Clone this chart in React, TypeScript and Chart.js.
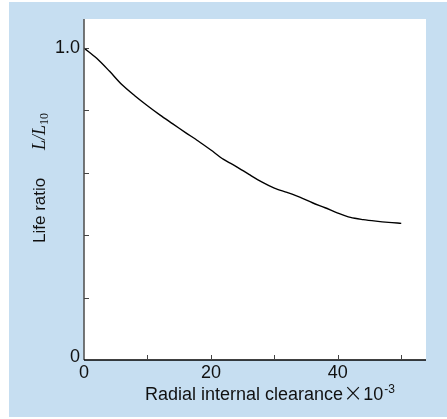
import React, { useEffect, useRef } from "react";
import { Chart, registerables } from "chart.js";

Chart.register(...registerables);

const clearance = [0, 2, 4, 6, 8, 10, 12, 14, 16, 18, 20, 22, 24, 26, 28, 30, 32, 34, 36, 38, 40, 42, 44, 46, 48, 50];
const lifeRatio = [1.0, 0.967, 0.926, 0.882, 0.847, 0.815, 0.785, 0.757, 0.729, 0.702, 0.673, 0.643, 0.62, 0.595, 0.571, 0.551, 0.537, 0.522, 0.504, 0.488, 0.471, 0.457, 0.45, 0.445, 0.441, 0.438];
const xTickValues = [0, 10, 20, 30, 40, 50];
const xTickLabels: Record<number, string> = { 0: "0", 20: "20", 40: "40" };
const yTickValues = [0, 0.2, 0.4, 0.6, 0.8, 1.0];
const yTickLabels: Record<number, string> = { 0: "0", 1: "1.0" };
const xTitle = "Radial internal clearance";
const xTitleTimes = "×";
const xTitleBase = "10";
const xTitleExp = "-3";
const yTitle = "Life ratio";
const yTitleVar = "L/L";
const yTitleSub = "10";

const SANS = "'Liberation Sans', Arial, Helvetica, sans-serif";
const SERIF = "'Liberation Serif', 'Times New Roman', serif";

const decor = {
  id: "decor",
  beforeDraw(chart: any) {
    const ctx = chart.ctx;
    const { left, right, top, bottom } = chart.chartArea;
    ctx.save();
    ctx.fillStyle = "#c6def1";
    ctx.fillRect(9, 2, 438, 415);
    ctx.fillStyle = "#ffffff";
    ctx.fillRect(left, top, right - left, bottom - top);
    ctx.restore();
  },
  afterDraw(chart: any) {
    const ctx = chart.ctx;
    const { left, right, top, bottom } = chart.chartArea;
    const xs = chart.scales.x;
    const ys = chart.scales.y;
    ctx.save();
    // axes
    ctx.lineWidth = 1.6;
    ctx.strokeStyle = "#555555";
    ctx.beginPath();
    ctx.moveTo(left, top);
    ctx.lineTo(left, bottom);
    ctx.stroke();
    ctx.strokeStyle = "#000000";
    ctx.beginPath();
    ctx.moveTo(left, bottom);
    ctx.lineTo(right, bottom);
    ctx.stroke();
    // ticks
    ctx.lineWidth = 1;
    ctx.strokeStyle = "#444444";
    yTickValues.forEach((v) => {
      if (v === 0) return;
      const y = Math.round(ys.getPixelForValue(v)) + 0.5;
      ctx.beginPath();
      ctx.moveTo(left, y);
      ctx.lineTo(left + 5, y);
      ctx.stroke();
    });
    xTickValues.forEach((v) => {
      if (v === 0) return;
      const x = Math.round(xs.getPixelForValue(v)) + 0.5;
      ctx.beginPath();
      ctx.moveTo(x, bottom);
      ctx.lineTo(x, bottom - 5);
      ctx.stroke();
    });
    // tick labels
    ctx.fillStyle = "#111111";
    ctx.font = `18px ${SANS}`;
    ctx.textAlign = "right";
    ctx.textBaseline = "middle";
    yTickValues.forEach((v) => {
      const lab = yTickLabels[v];
      if (!lab) return;
      const y = ys.getPixelForValue(v);
      ctx.fillText(lab, left - 4, v === 0 ? y - 3 : y);
    });
    ctx.textAlign = "center";
    ctx.textBaseline = "top";
    xTickValues.forEach((v) => {
      const lab = xTickLabels[v];
      if (!lab) return;
      ctx.fillText(lab, xs.getPixelForValue(v), bottom + 4);
    });
    // x title
    ctx.textAlign = "left";
    ctx.textBaseline = "alphabetic";
    ctx.font = `18px ${SANS}`;
    let cx = 145;
    const base = 400;
    ctx.fillText(xTitle, cx, base);
    cx += ctx.measureText(xTitle).width;
    ctx.font = `300 24px 'DejaVu Sans', ${SANS}`;
    ctx.fillText(xTitleTimes, cx, base + 1);
    cx += ctx.measureText(xTitleTimes).width;
    ctx.font = `18px ${SANS}`;
    ctx.fillText(xTitleBase, cx, base);
    cx += ctx.measureText(xTitleBase).width;
    ctx.font = `12px ${SANS}`;
    ctx.fillText(xTitleExp, cx + 1, base - 7);
    // y title
    ctx.translate(45, 243);
    ctx.rotate(-Math.PI / 2);
    ctx.font = `17px ${SANS}`;
    ctx.fillText(yTitle, 0, 0);
    let ty = 93;
    ctx.font = `italic 18px ${SERIF}`;
    ctx.fillText(yTitleVar, ty, 0);
    ty += ctx.measureText(yTitleVar).width;
    ctx.font = `12px ${SERIF}`;
    ctx.fillText(yTitleSub, ty, 3);
    ctx.restore();
  },
};

export default function App() {
  const ref = useRef<HTMLCanvasElement>(null);
  useEffect(() => {
    if (!ref.current) return;
    const chart = new Chart(ref.current, {
      type: "line",
      data: {
        datasets: [
          {
            data: clearance.map((x, i) => ({ x, y: lifeRatio[i] })),
            borderColor: "#000000",
            borderWidth: 1.4,
            pointRadius: 0,
            tension: 0.3,
            fill: false,
          },
        ],
      },
      options: {
        responsive: false,
        animation: false,
        devicePixelRatio: 1,
        layout: { padding: { left: 84, top: 19, right: 21, bottom: 59 } },
        plugins: { legend: { display: false }, tooltip: { enabled: false } },
        scales: {
          x: { type: "linear", display: false, min: 0, max: 53.9 },
          y: { type: "linear", display: false, min: 0, max: 1.093 },
        },
      },
      plugins: [decor],
    });
    return () => chart.destroy();
  }, []);
  return (
    <div style={{ position: "absolute", left: 0, top: 0, width: 447, height: 419 }}>
      <canvas ref={ref} width={447} height={419} style={{ display: "block" }} />
    </div>
  );
}
